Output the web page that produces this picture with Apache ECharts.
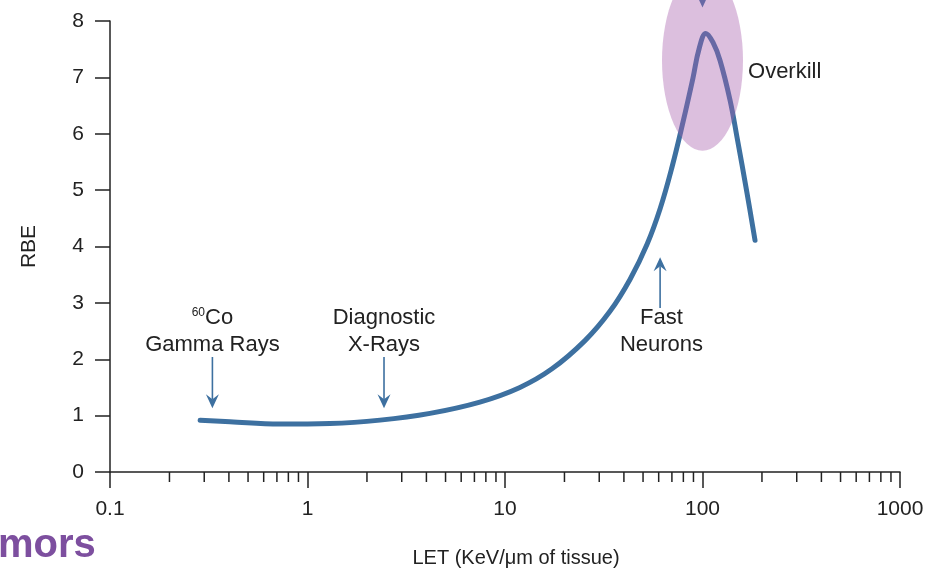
<!DOCTYPE html>
<html>
<head>
<meta charset="utf-8">
<script src="https://cdn.jsdelivr.net/npm/echarts@6/dist/echarts.min.js"></script>
<style>
html,body{margin:0;padding:0;background:#fff;}
#chart{width:941px;height:572px;}
</style>
</head>
<body>
<div id="chart"></div>
<script>
// ---- data ----
const curveLET = [0.286, 0.405, 0.726, 1.30, 2.33, 4.17, 7.46, 11.9, 17.3, 25.4, 34.0, 43.0, 52.4, 61.0, 70.1, 79.7, 89.5, 96, 104, 113, 122.7, 137.8, 149.5, 168, 184.5];
const curveRBE = [0.92, 0.89, 0.85, 0.86, 0.92, 1.04, 1.24, 1.50, 1.83, 2.33, 2.85, 3.42, 4.04, 4.67, 5.41, 6.21, 6.99, 7.50, 7.78, 7.62, 7.30, 6.60, 5.94, 4.95, 4.11];

const xTickLabels = ['0.1', '1', '10', '100', '1000'];
const minorTickValues = [0.2,0.3,0.4,0.5,0.6,0.7,0.8,0.9, 2,3,4,5,6,7,8,9, 20,30,40,50,60,70,80,90, 200,300,400,500,600,700,800,900];

// arrows: LET, start RBE, tip RBE
const arrowLET = [0.33, 2.44, 61, 100];
const arrowFromRBE = [2.04, 2.04, 2.91, 8.9];
const arrowToRBE = [1.13, 1.13, 3.81, 8.24];

// annotation texts
const noteText = ['{s|60}Co', 'Gamma Rays', 'Diagnostic', 'X-Rays', 'Fast', 'Neurons', 'Overkill'];
const noteLET = [0.33, 0.33, 2.44, 2.44, 62, 62, 170];
const noteRBE = [2.73, 2.25, 2.73, 2.25, 2.73, 2.25, 7.09];
const noteAlign = ['center', 'center', 'center', 'center', 'center', 'center', 'left'];

// overkill region: centre LET, centre RBE, half-width in decades, half-height in RBE
const overkill = [100, 7.3, 0.205, 1.6];

const FONT = '"Liberation Sans", Arial, Helvetica, sans-serif';
const INK = '#222';
const BLUE = '#3d70a0';

const chart = echarts.init(document.getElementById('chart'), null, {renderer: 'canvas'});

const option = {
  backgroundColor: '#fff',
  animation: false,
  textStyle: {fontFamily: FONT},
  grid: {left: 110, right: 41, top: 21, bottom: 100, containLabel: false, outerBoundsMode: 'none'},
  xAxis: {
    type: 'log', logBase: 10, min: 0.1, max: 1000,
    name: 'LET (KeV/\u03bcm of tissue)', nameLocation: 'middle', nameGap: 76,
    nameTextStyle: {fontSize: 20, color: INK, fontFamily: FONT, padding: [0, 0, 0, 22]},
    axisLine: {show: true, lineStyle: {color: INK, width: 1.5}},
    axisTick: {show: true, length: 16, lineStyle: {color: INK, width: 1.5}},
    axisLabel: {margin: 27, fontSize: 21, color: INK, fontFamily: FONT,
      formatter: function (v) {
        const e = Math.round(Math.log10(v));
        return xTickLabels[e + 1] !== undefined ? xTickLabels[e + 1] : '';
      }},
    splitLine: {show: false},
    minorTick: {show: false}
  },
  yAxis: {
    type: 'value', min: 0, max: 8, interval: 1,
    name: 'RBE', nameLocation: 'middle', nameGap: 70, nameRotate: 90,
    nameTextStyle: {fontSize: 21, color: INK, fontFamily: FONT},
    axisLine: {show: true, lineStyle: {color: INK, width: 1.5}},
    axisTick: {show: true, length: 15, lineStyle: {color: INK, width: 1.5}},
    axisLabel: {margin: 26, fontSize: 21, color: INK, fontFamily: FONT},
    splitLine: {show: false}
  },
  graphic: [{
    type: 'text', x: -2, y: 546,
    style: {text: 'mors', font: 'bold 40px ' + FONT, fill: '#7d4f9f', verticalAlign: 'middle', align: 'left'}
  }],
  series: [
    {
      type: 'custom', name: 'minorTicks', clip: false, silent: true, z: 3,
      data: minorTickValues.map(v => [v, 0]),
      renderItem: function (params, api) {
        const p = api.coord([api.value(0), 0]);
        return {type: 'line', shape: {x1: p[0], y1: p[1], x2: p[0], y2: p[1] + 10},
          style: {stroke: INK, lineWidth: 1.5}};
      }
    },
    {
      type: 'line', name: 'RBE', z: 2,
      data: curveLET.map((x, i) => [x, curveRBE[i]]),
      smooth: 0.4, showSymbol: false, symbol: 'none',
      lineStyle: {color: BLUE, width: 5, cap: 'round', join: 'round'}
    },
    {
      type: 'custom', name: 'arrows', clip: false, silent: true, z: 4,
      data: arrowLET.map((x, i) => [x, arrowFromRBE[i], arrowToRBE[i]]),
      renderItem: function (params, api) {
        const a = api.coord([api.value(0), api.value(1)]);
        const b = api.coord([api.value(0), api.value(2)]);
        const dx = b[0] - a[0], dy = b[1] - a[1];
        const L = Math.sqrt(dx * dx + dy * dy) || 1;
        const ux = dx / L, uy = dy / L, nx = -uy, ny = ux;
        const hl = 14, hw = 6.5, notch = 9;
        const back = [b[0] - ux * hl, b[1] - uy * hl];
        const nt = [b[0] - ux * notch, b[1] - uy * notch];
        return {type: 'group', children: [
          {type: 'line', shape: {x1: a[0], y1: a[1], x2: nt[0], y2: nt[1]}, style: {stroke: BLUE, lineWidth: 1.6}},
          {type: 'polygon', shape: {points: [b, [back[0] + nx * hw, back[1] + ny * hw], nt, [back[0] - nx * hw, back[1] - ny * hw]]},
            style: {fill: BLUE}}
        ]};
      }
    },
    {
      type: 'custom', name: 'overkillRegion', clip: false, silent: true, z: 5,
      data: [overkill],
      renderItem: function (params, api) {
        const c = api.coord([api.value(0), api.value(1)]);
        const l = api.coord([api.value(0) / Math.pow(10, api.value(2)), api.value(1)]);
        const t = api.coord([api.value(0), api.value(1) + api.value(3)]);
        const rx = c[0] - l[0], ry = c[1] - t[1];
        return {type: 'circle', x: c[0], y: c[1], scaleX: 1, scaleY: ry / rx,
          shape: {cx: 0, cy: 0, r: rx},
          style: {fill: 'rgba(168,96,172,0.4)'}};
      }
    },
    {
      type: 'custom', name: 'notes', clip: false, silent: true, z: 6,
      data: noteLET.map((x, i) => [x, noteRBE[i], i]),
      renderItem: function (params, api) {
        const i = api.value(2);
        const p = api.coord([api.value(0), api.value(1)]);
        return {type: 'text', x: p[0], y: p[1],
          style: {text: noteText[i], fill: INK, fontSize: 22, fontFamily: FONT,
            align: noteAlign[i], verticalAlign: 'middle',
            rich: {s: {fontSize: 12, fontFamily: FONT, fill: INK, verticalAlign: 'top', padding: [0, 0, 8, 0]}}}};
      }
    }
  ]
};
chart.setOption(option);
</script>
</body>
</html>
